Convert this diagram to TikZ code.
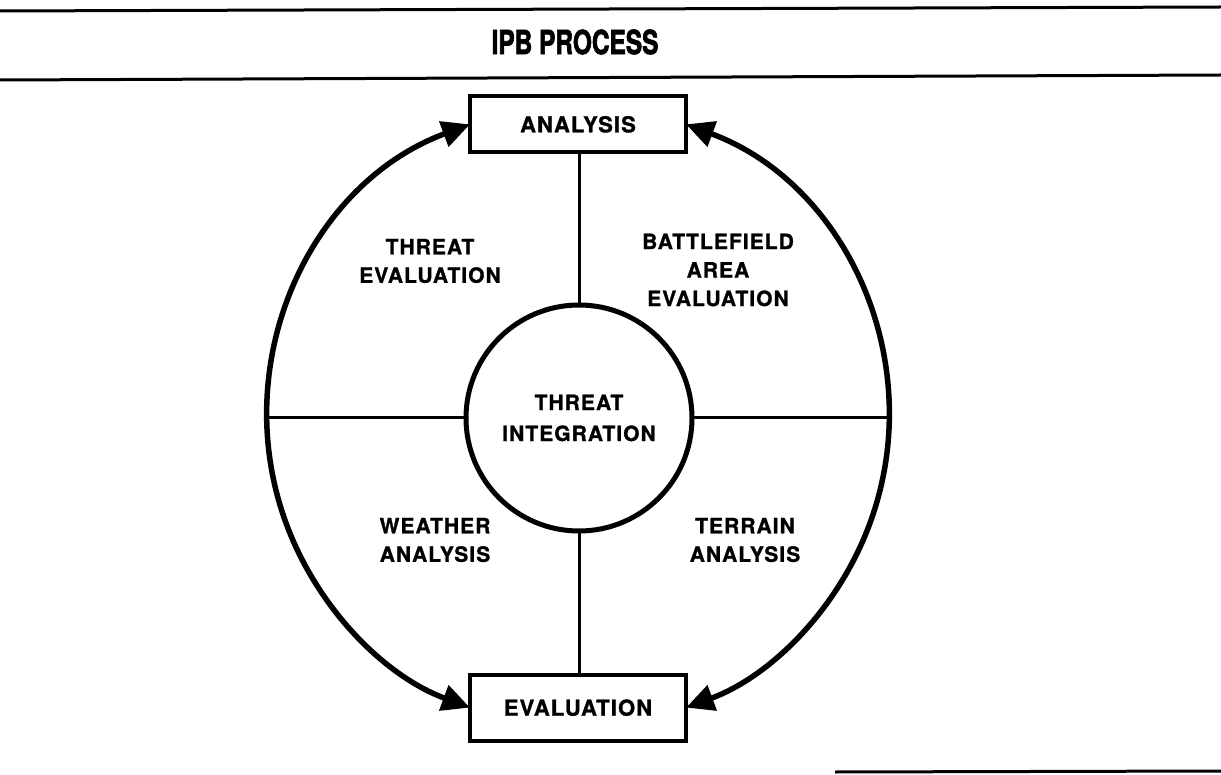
\documentclass[tikz,border=0pt]{standalone}
\usepackage{fontspec}
\setmainfont{TeX Gyre Heros}
\newfontfamily\labfont[LetterSpace=5, BoldFeatures={FakeBold=1.2}]{TeX Gyre Heros}
\newfontfamily\titlefontfam[BoldFeatures={FakeBold=2.5}]{TeX Gyre Heros}
\usetikzlibrary{arrows.meta}
\tikzset{
  rule/.style={line width=3pt},
  titlefont/.style={font=\titlefontfam\bfseries\fontsize{33}{33}\selectfont},
  box/.style={draw, line width=4pt, outer sep=0pt, minimum width=216pt, inner sep=0pt,
              font=\labfont\bfseries\fontsize{22}{26}\selectfont},
  hub/.style={draw, circle, line width=5pt, outer sep=0pt, minimum size=226pt, inner sep=0pt,
              align=center, font=\labfont\bfseries\fontsize{21}{31}\selectfont},
  lab/.style={align=center, font=\labfont\bfseries\fontsize{21}{28.5}\selectfont},
  divider/.style={line width=3pt},
  cyc/.style={line width=5.5pt,
              {Triangle[length=28pt,width=26pt]}-{Triangle[length=28pt,width=26pt]}}
}
\begin{document}
\begin{tikzpicture}[x=1pt,y=-1pt]
\useasboundingbox (0,0) rectangle (1221,775);
\draw[rule] (0,11) -- (1221,7);
\node[titlefont] (title) at (575,42) {\scalebox{0.74}[1]{IPB PROCESS}};
\draw[rule] (0,80) -- (1221,75);

\node[box, minimum height=56pt] (analysis) at (578,124.35) {ANALYSIS};
\node[box, minimum height=66pt] (evaluation) at (578,707.65) {EVALUATION};
\node[hub] (hub) at (579,418) {THREAT\\INTEGRATION};

\coordinate (L) at (267,418);
\coordinate (R) at (889,418);

\draw[divider] (analysis.south -| hub.north) -- (hub.north);
\draw[divider] (hub.south) -- (evaluation.north -| hub.south);
\draw[divider] (L) -- (hub.west);
\draw[divider] (hub.east) -- (R);

\draw[cyc] (analysis.west) arc[start angle=110.32, end angle=249.68, radius=311pt];
\draw[cyc] (analysis.east) arc[start angle=69.68, end angle=-69.68, radius=311pt];

\node[lab] (threatev) at (430,261) {THREAT\\EVALUATION};
\node[lab] (battle) at (718,270) {BATTLEFIELD\\AREA\\EVALUATION};
\node[lab] (weather) at (435,540) {WEATHER\\ANALYSIS};
\node[lab] (terrain) at (745,540) {TERRAIN\\ANALYSIS};

\draw[rule] (835,772) -- (1221,771);
\end{tikzpicture}
\end{document}
